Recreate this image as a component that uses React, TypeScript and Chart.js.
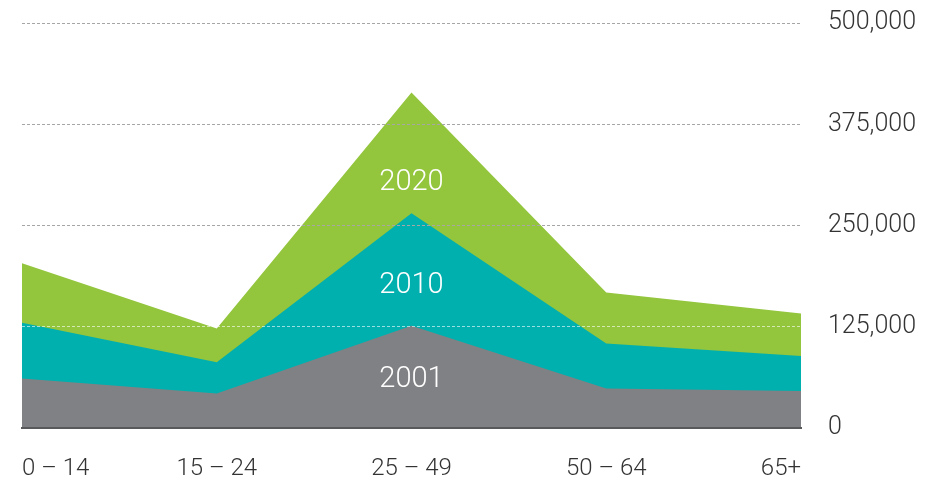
import React, { useEffect, useRef } from "react";
import { Chart, registerables } from "chart.js";

Chart.register(...registerables);

const categories = ["0 – 14", "15 – 24", "25 – 49", "50 – 64", "65+"];
const seriesNames = ["2001", "2010", "2020"];
const values2001 = [61100, 42500, 126100, 48700, 45800];
const values2010 = [129800, 81200, 265100, 104400, 89000];
const values2020 = [203300, 122900, 414300, 167400, 141500];
const seriesColors = ["#808184", "#00b0ae", "#93c53d"];
const yTicks = [0, 125000, 250000, 375000, 500000];
// in-area label positions (category index, value)
const labelCategoryIndex = 2;
const labelValues = [59000, 176000, 303000];

const FONT = "Roboto, 'Liberation Sans', sans-serif";

const areaLabels = {
  id: "areaLabels",
  afterDatasetsDraw(chart: any) {
    const { ctx, scales } = chart;
    const x = scales.x.getPixelForValue(labelCategoryIndex);
    ctx.save();
    ctx.fillStyle = "#ffffff";
    ctx.font = `300 29px ${FONT}`;
    ctx.textAlign = "center";
    ctx.textBaseline = "middle";
    seriesNames.forEach((name, i) => {
      ctx.fillText(name, x, scales.y.getPixelForValue(labelValues[i]));
    });
    ctx.restore();
  },
};

const gridColor = (c: any) => {
  const v = c.tick ? c.tick.value : -1;
  if (v === 0) return "rgba(0,0,0,0)";
  if (v === 125000) return "rgba(255,255,255,0.6)";
  return "#a6a6a6";
};

export default function App() {
  const ref = useRef<HTMLCanvasElement>(null);
  useEffect(() => {
    if (!ref.current) return;
    const mk = (i: number, data: number[]) => ({
      label: seriesNames[i],
      data,
      backgroundColor: seriesColors[i],
      borderWidth: 0,
      pointRadius: 0,
      fill: "origin",
      tension: 0,
    });
    const chart = new Chart(ref.current, {
      type: "line",
      data: {
        labels: categories,
        datasets: [mk(0, values2001), mk(1, values2010), mk(2, values2020)],
      },
      plugins: [areaLabels],
      options: {
        animation: false,
        responsive: false,
        maintainAspectRatio: false,
        layout: { padding: { left: 22, top: 23, right: 0, bottom: 0 } },
        plugins: { legend: { display: false }, tooltip: { enabled: false } },
        scales: {
          x: {
            offset: false,
            grid: { display: true, drawTicks: true, tickLength: 27, color: "rgba(0,0,0,0)", tickColor: "rgba(0,0,0,0)" },
            border: { display: true, color: "#58595b", width: 2, z: 2 },
            ticks: {
              align: "inner",
              padding: 0,
              color: "#333333",
              font: { family: FONT, size: 24, weight: 300 },
              maxRotation: 0,
              autoSkip: false,
            },
            afterFit: (s: any) => {
              s.height = 56;
            },
          },
          y: {
            position: "right",
            min: 0,
            max: 500000,
            afterBuildTicks: (s: any) => {
              s.ticks = yTicks.map((v) => ({ value: v }));
            },
            grid: {
              z: 1,
              drawTicks: true,
              tickLength: 27,
              tickColor: "rgba(0,0,0,0)",
              color: gridColor,
              lineWidth: 1,
            },
            border: { display: false, dash: [3, 2] },
            ticks: {
              padding: 0,
              color: "#333333",
              font: { family: FONT, size: 25, weight: 300 },
              callback: (v: any) => Number(v).toLocaleString("en-US"),
            },
            afterFit: (s: any) => {
              s.width = 134;
            },
          },
        },
      },
    });
    return () => chart.destroy();
  }, []);
  return (
    <div style={{ position: "fixed", left: 0, top: 0, width: 935, height: 484, background: "#fff" }}>
      <canvas ref={ref} width={935} height={484} style={{ display: "block" }} />
    </div>
  );
}
